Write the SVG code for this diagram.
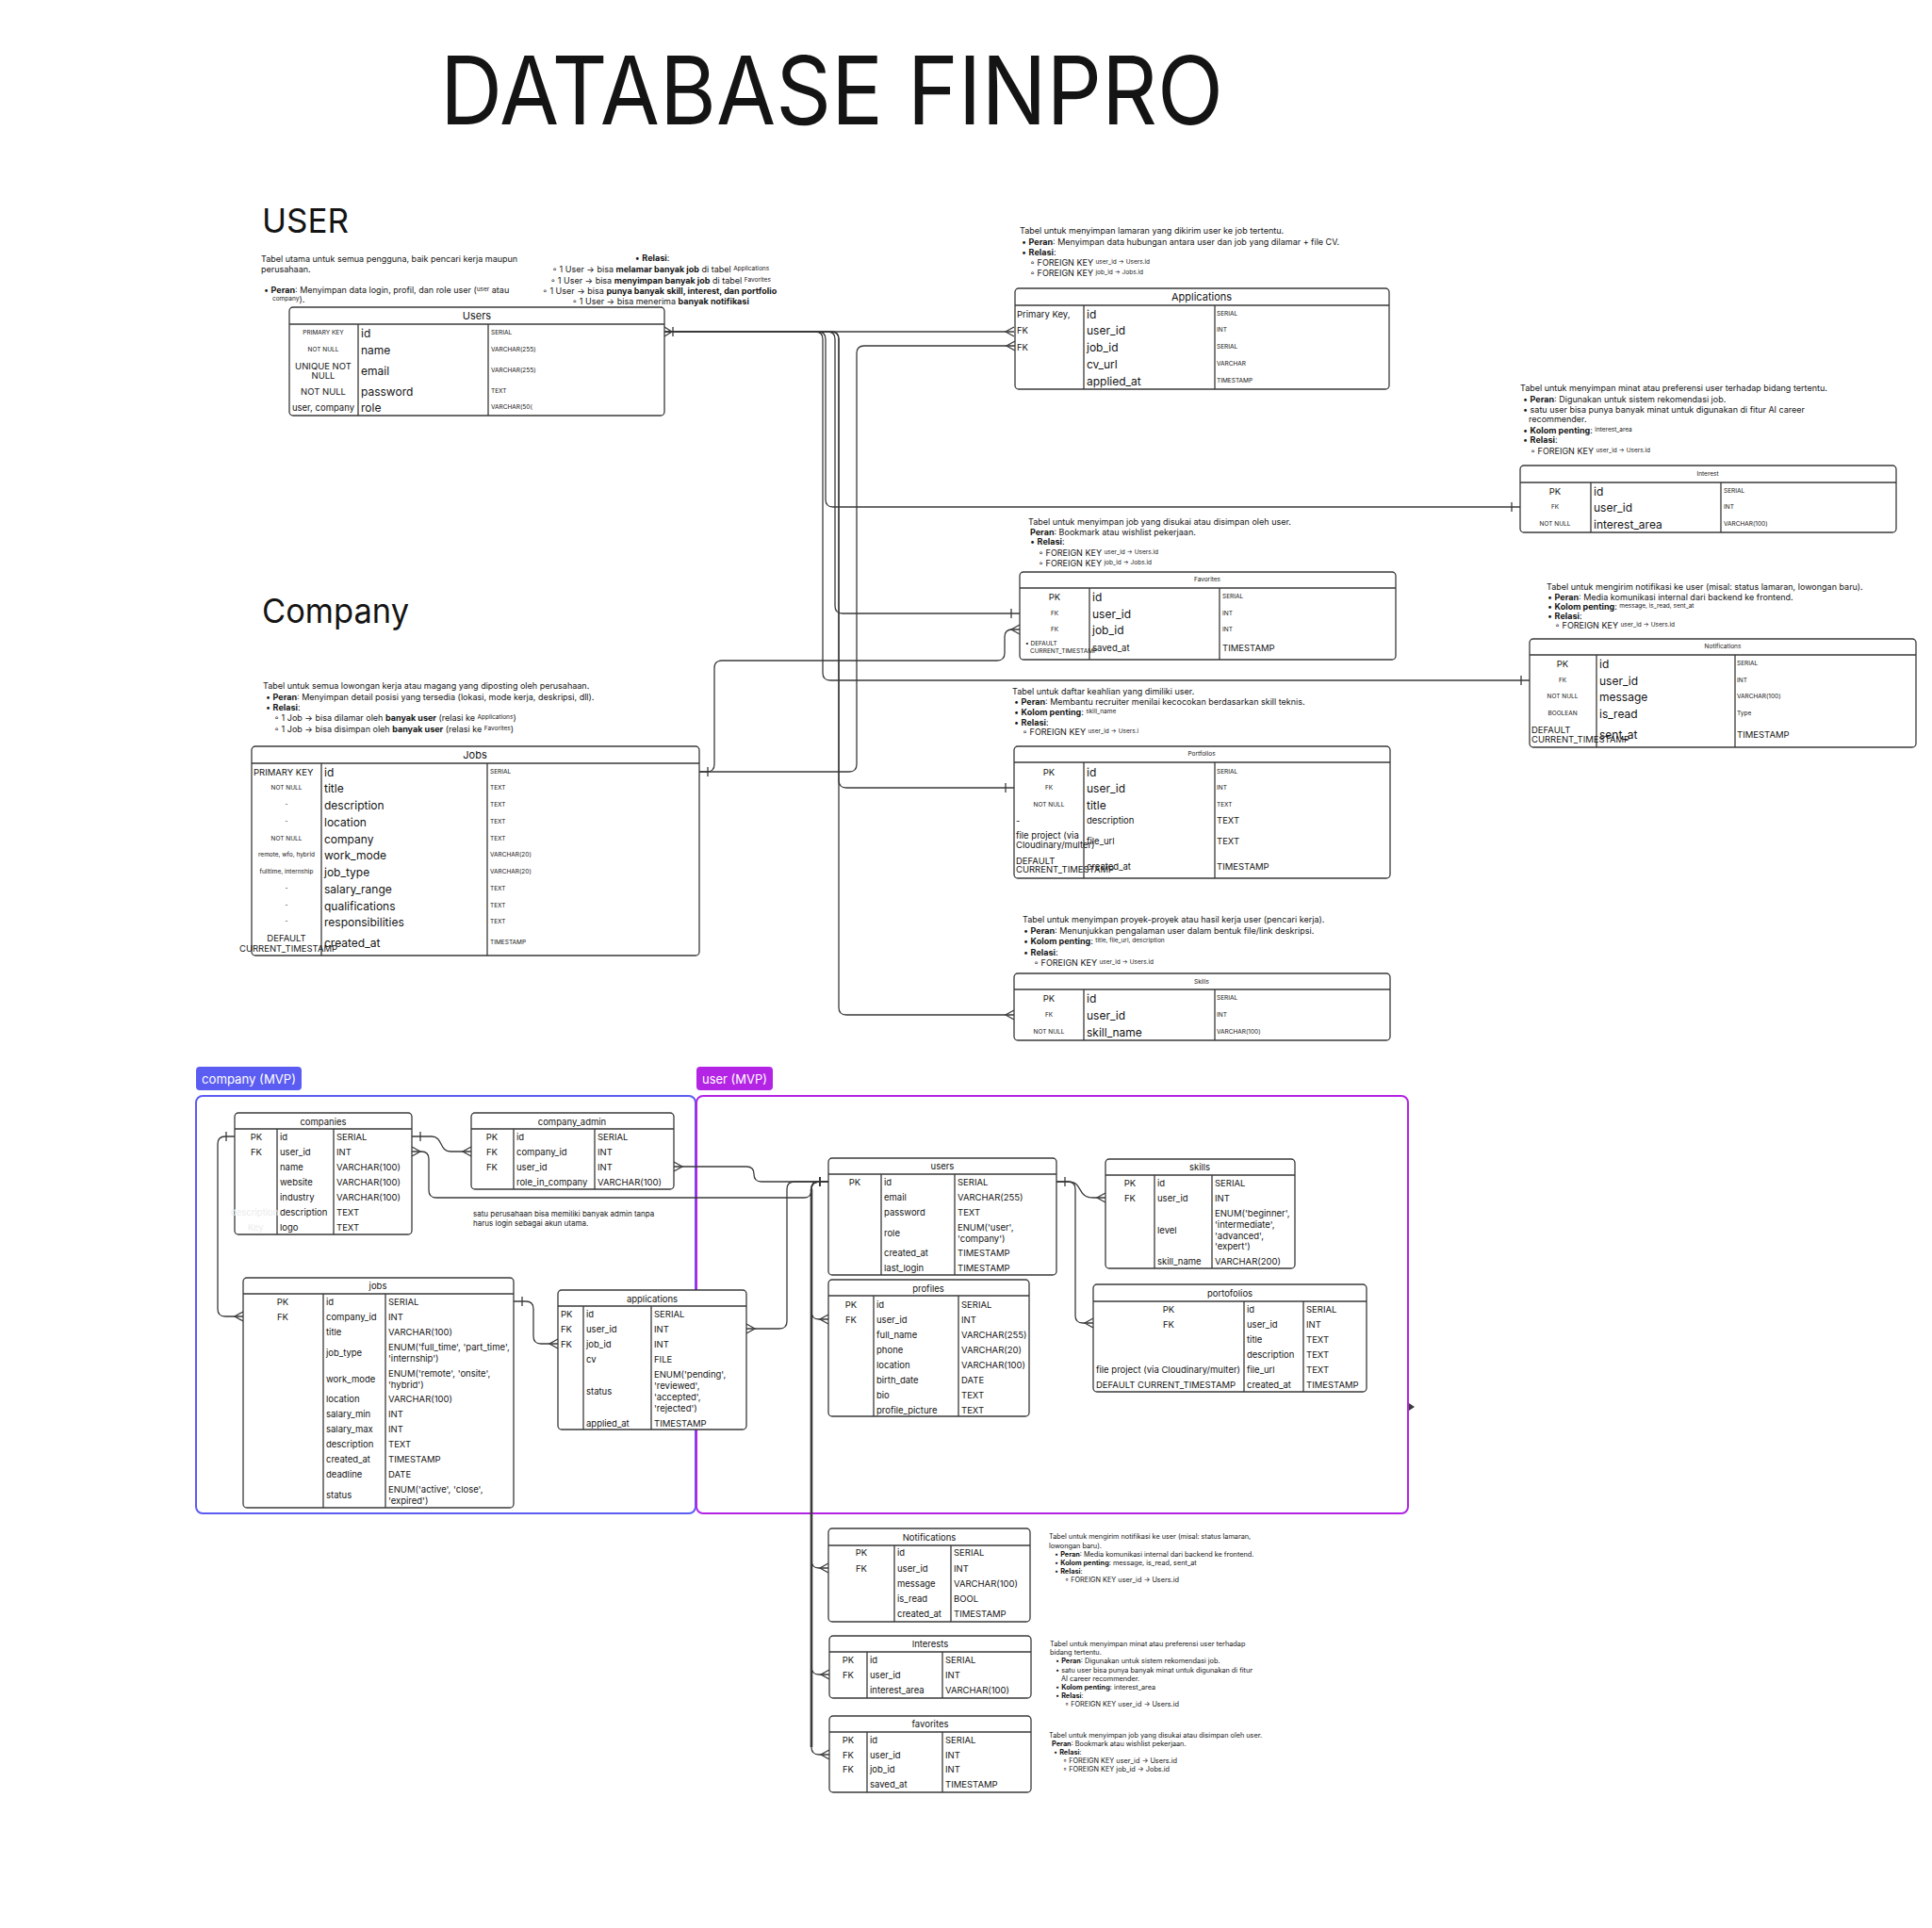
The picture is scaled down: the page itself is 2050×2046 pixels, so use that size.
<svg xmlns="http://www.w3.org/2000/svg" width="2050" height="2046" viewBox="0 0 2050 2046">
<style>
text{font-family:Inter,"Liberation Sans",sans-serif;fill:#141414;dominant-baseline:central}
.tbl{fill:#fff;stroke:#3a3a3a;stroke-width:1.3}
.ln{fill:none;stroke:#3a3a3a;stroke-width:1.3}
.cx{fill:none;stroke:#3a3a3a;stroke-width:1.3}
.f12{font-size:12px}.f11{font-size:11px}.f9{font-size:9.5px}.f6{font-size:6.5px}.n{font-size:9px}.n8{font-size:8px}.n7{font-size:7.3px}
.m{text-anchor:middle}.b{font-weight:700}.s{font-size:6.5px}
.wt{fill:#fff}.ghost{fill:#ececec}
</style>
<defs>
<marker id="many" markerUnits="userSpaceOnUse" markerWidth="24" markerHeight="24" viewBox="-12 -12 24 24" refX="0" refY="0" orient="auto-start-reverse" overflow="visible"><path d="M0,-5 L-9,0 L0,5" fill="none" stroke="#3a3a3a" stroke-width="1.3"/></marker>
<marker id="one" markerUnits="userSpaceOnUse" markerWidth="24" markerHeight="24" viewBox="-12 -12 24 24" refX="0" refY="0" orient="auto-start-reverse" overflow="visible"><path d="M-9,-5 V5" fill="none" stroke="#3a3a3a" stroke-width="1.3"/></marker>
<marker id="onemany" markerUnits="userSpaceOnUse" markerWidth="24" markerHeight="24" viewBox="-12 -12 24 24" refX="0" refY="0" orient="auto-start-reverse" overflow="visible"><path d="M0,-5 L-8,0 L0,5 M-9,-5 V5" fill="none" stroke="#3a3a3a" stroke-width="1.3"/></marker>
</defs>
<rect width="2050" height="2046" fill="#fff"/>

<text x="467" y="95" font-size="100" textLength="831" lengthAdjust="spacingAndGlyphs">DATABASE FINPRO</text>
<text x="278" y="234" font-size="36" textLength="92" lengthAdjust="spacingAndGlyphs">USER</text>
<text x="278" y="648" font-size="36" textLength="156" lengthAdjust="spacingAndGlyphs">Company</text>

<!-- notes -->
<g id="notes">
<text class="n" x="277" y="274">Tabel utama untuk semua pengguna, baik pencari kerja maupun</text>
<text class="n" x="277" y="285">perusahaan.</text>
<text class="n" x="280" y="307">• <tspan class="b">Peran</tspan>: Menyimpan data login, profil, dan role user (<tspan class="s">user</tspan> atau</text>
<text class="n" x="289" y="317"><tspan class="s">company</tspan>).</text>

<text class="n m" x="692" y="273">• <tspan class="b">Relasi</tspan>:</text>
<text class="n m" x="701" y="285">◦ 1 User → bisa <tspan class="b">melamar banyak job</tspan> di tabel <tspan class="s">Applications</tspan></text>
<text class="n m" x="701" y="297">◦  1 User → bisa <tspan class="b">menyimpan banyak job</tspan> di tabel <tspan class="s">Favorites</tspan></text>
<text class="n m" x="700" y="308">◦ 1 User → bisa <tspan class="b">punya banyak skill, interest, dan portfolio</tspan></text>
<text class="n m" x="701" y="319">◦ 1 User → bisa menerima <tspan class="b">banyak notifikasi</tspan></text>

<text class="n" x="1082" y="244">Tabel untuk menyimpan lamaran yang dikirim user ke job tertentu.</text>
<text class="n" x="1084" y="256">• <tspan class="b">Peran</tspan>: Menyimpan data hubungan antara user dan job yang dilamar + file CV.</text>
<text class="n" x="1084" y="267">• <tspan class="b">Relasi</tspan>:</text>
<text class="n" x="1093" y="278">◦ FOREIGN KEY <tspan class="s">user_id → Users.id</tspan></text>
<text class="n" x="1093" y="289">◦ FOREIGN KEY <tspan class="s">job_id → Jobs.id</tspan></text>

<text class="n" x="1613" y="411">Tabel untuk menyimpan minat atau preferensi user terhadap bidang tertentu.</text>
<text class="n" x="1616" y="423">•  <tspan class="b">Peran</tspan>: Digunakan untuk sistem rekomendasi job.</text>
<text class="n" x="1616" y="434">• satu user bisa punya banyak minat untuk digunakan di fitur AI career</text>
<text class="n" x="1622" y="444">recommender.</text>
<text class="n" x="1616" y="456">• <tspan class="b">Kolom penting</tspan>: <tspan class="s">interest_area</tspan></text>
<text class="n" x="1616" y="466">• <tspan class="b">Relasi</tspan>:</text>
<text class="n" x="1624" y="478">◦ FOREIGN KEY <tspan class="s">user_id → Users.id</tspan></text>

<text class="n" x="1091" y="553">Tabel untuk menyimpan job yang disukai atau disimpan oleh user.</text>
<text class="n" x="1093" y="564"><tspan class="b">Peran</tspan>: Bookmark atau wishlist pekerjaan.</text>
<text class="n" x="1093" y="574">• <tspan class="b">Relasi</tspan>:</text>
<text class="n" x="1102" y="586">◦ FOREIGN KEY <tspan class="s">user_id → Users.id</tspan></text>
<text class="n" x="1102" y="597">◦ FOREIGN KEY <tspan class="s">job_id → Jobs.id</tspan></text>

<text class="n" x="1641" y="622">Tabel untuk mengirim notifikasi ke user (misal: status lamaran, lowongan baru).</text>
<text class="n" x="1642" y="633">• <tspan class="b">Peran</tspan>: Media komunikasi internal dari backend ke frontend.</text>
<text class="n" x="1642" y="643">• <tspan class="b">Kolom penting</tspan>: <tspan class="s">message, is_read, sent_at</tspan></text>
<text class="n" x="1642" y="653">• <tspan class="b">Relasi</tspan>:</text>
<text class="n" x="1650" y="663">◦ FOREIGN KEY <tspan class="s">user_id → Users.id</tspan></text>

<text class="n" x="279" y="727">Tabel untuk semua lowongan kerja atau magang yang diposting oleh perusahaan.</text>
<text class="n" x="282" y="739">• <tspan class="b">Peran</tspan>: Menyimpan detail posisi yang tersedia (lokasi, mode kerja, deskripsi, dll).</text>
<text class="n" x="282" y="750">• <tspan class="b">Relasi</tspan>:</text>
<text class="n" x="291" y="761">◦ 1 Job → bisa dilamar oleh <tspan class="b">banyak user</tspan> (relasi ke <tspan class="s">Applications</tspan>)</text>
<text class="n" x="291" y="773">◦ 1 Job → bisa disimpan oleh <tspan class="b">banyak user</tspan> (relasi ke <tspan class="s">Favorites</tspan>)</text>

<text class="n" x="1074" y="733">Tabel untuk daftar keahlian yang dimiliki user.</text>
<text class="n" x="1076" y="744">• <tspan class="b">Peran</tspan>: Membantu recruiter menilai kecocokan berdasarkan skill teknis.</text>
<text class="n" x="1076" y="755">• <tspan class="b">Kolom penting</tspan>: <tspan class="s">skill_name</tspan></text>
<text class="n" x="1076" y="766">• <tspan class="b">Relasi</tspan>:</text>
<text class="n" x="1085" y="776">◦ FOREIGN KEY <tspan class="s">user_id → Users.i</tspan></text>

<text class="n" x="1085" y="975">Tabel untuk menyimpan proyek-proyek atau hasil kerja user (pencari kerja).</text>
<text class="n" x="1086" y="987">• <tspan class="b">Peran</tspan>: Menunjukkan pengalaman user dalam bentuk file/link deskripsi.</text>
<text class="n" x="1086" y="998">• <tspan class="b">Kolom penting</tspan>: <tspan class="s">title, file_url, description</tspan></text>
<text class="n" x="1086" y="1010">• <tspan class="b">Relasi</tspan>:</text>
<text class="n" x="1097" y="1021">◦ FOREIGN KEY <tspan class="s">user_id → Users.id</tspan></text>

<text class="n8" x="502" y="1288">satu perusahaan bisa memiliki banyak admin tanpa</text>
<text class="n8" x="502" y="1298">harus login sebagai akun utama.</text>

<text class="n7" x="1113" y="1630">Tabel untuk mengirim notifikasi ke user (misal: status lamaran,</text>
<text class="n7" x="1113" y="1640">lowongan baru).</text>
<text class="n7" x="1119" y="1649">• <tspan class="b">Peran</tspan>: Media komunikasi internal dari backend ke frontend.</text>
<text class="n7" x="1119" y="1658">• <tspan class="b">Kolom penting</tspan>: message, is_read, sent_at</text>
<text class="n7" x="1119" y="1667">• <tspan class="b">Relasi</tspan>:</text>
<text class="n7" x="1130" y="1676">◦ FOREIGN KEY user_id → Users.id</text>

<text class="n7" x="1114" y="1744">Tabel untuk menyimpan minat atau preferensi user terhadap</text>
<text class="n7" x="1114" y="1753">bidang tertentu.</text>
<text class="n7" x="1120" y="1762">• <tspan class="b">Peran</tspan>: Digunakan untuk sistem rekomendasi job.</text>
<text class="n7" x="1120" y="1772">• satu user bisa punya banyak minat untuk digunakan di fitur</text>
<text class="n7" x="1126" y="1781">AI career recommender.</text>
<text class="n7" x="1120" y="1790">• <tspan class="b">Kolom penting</tspan>: interest_area</text>
<text class="n7" x="1120" y="1799">• <tspan class="b">Relasi</tspan>:</text>
<text class="n7" x="1130" y="1808">◦ FOREIGN KEY user_id → Users.id</text>

<text class="n7" x="1113" y="1841">Tabel untuk menyimpan job yang disukai atau disimpan oleh user.</text>
<text class="n7" x="1116" y="1850"><tspan class="b">Peran</tspan>: Bookmark atau wishlist pekerjaan.</text>
<text class="n7" x="1118" y="1859">• <tspan class="b">Relasi</tspan>:</text>
<text class="n7" x="1128" y="1868">◦ FOREIGN KEY user_id → Users.id</text>
<text class="n7" x="1128" y="1877">◦ FOREIGN KEY job_id → Jobs.id</text>
</g>

<!-- containers -->
<g id="company-mvp">
<rect x="208" y="1163" width="530" height="443" rx="7" fill="none" stroke="#5b5cf2" stroke-width="2"/>
<rect x="208" y="1132" width="112" height="25" rx="4" fill="#5b5cf2"/>
<text class="wt" x="214" y="1145" font-size="13" textLength="100" lengthAdjust="spacingAndGlyphs">company (MVP)</text>
</g>
<g id="user-mvp">
<rect x="739" y="1163" width="755" height="443" rx="7" fill="none" stroke="#b324e4" stroke-width="2"/>
<rect x="739" y="1132" width="81" height="25" rx="4" fill="#b324e4"/>
<text class="wt" x="745" y="1145" font-size="13" textLength="69" lengthAdjust="spacingAndGlyphs">user (MVP)</text>
</g>

<!-- connectors -->
<g id="connectors">
<path class="cx" marker-start="url(#onemany)" marker-end="url(#many)" d="M705,352 H1076"/>
<path class="cx" marker-end="url(#one)" d="M705,352 H868 Q876,352 876,360 V530 Q876,538 884,538 H1613"/>
<path class="cx" marker-end="url(#one)" d="M705,352 H865 Q873,352 873,360 V714 Q873,722 881,722 H1623"/>
<path class="cx" marker-end="url(#one)" d="M705,352 H878 Q886,352 886,360 V643 Q886,651 894,651 H1082"/>
<path class="cx" marker-end="url(#one)" d="M705,352 H882 Q890,352 890,360 V828 Q890,836 898,836 H1076"/>
<path class="cx" marker-end="url(#many)" d="M705,352 H882 Q890,352 890,360 V1069 Q890,1077 898,1077 H1076"/>
<path class="cx" marker-start="url(#one)" marker-end="url(#many)" d="M742,819 H901 Q909,819 909,811 V375 Q909,367 917,367 H1077"/>
<path class="cx" marker-end="url(#many)" d="M742,819 H750 Q758,819 758,811 V709 Q758,701 766,701 H1058 Q1066,701 1066,693 V676 Q1066,668 1074,668 H1082"/>

<path class="cx" marker-start="url(#one)" marker-end="url(#many)" d="M249,1206 H239 Q231,1206 231,1214 V1389 Q231,1397 239,1397 H258"/>
<path class="cx" marker-start="url(#one)" marker-end="url(#many)" d="M437,1206 H458 C470,1206 466,1222 478,1222 H500"/>
<path class="cx" marker-start="url(#many)" marker-end="url(#one)" d="M437,1222 H447 Q455,1222 455,1230 V1263 Q455,1271 463,1271 H853 Q861,1271 861,1263 V1262 Q861,1254 869,1254 H879"/>
<path class="cx" marker-start="url(#many)" marker-end="url(#one)" d="M715,1238 H792 Q800,1238 800,1246 Q800,1254 808,1254 H879"/>
<path class="cx" marker-start="url(#one)" marker-end="url(#many)" d="M545,1381 H558 Q566,1381 566,1389 V1418 Q566,1426 574,1426 H592"/>
<path class="cx" marker-start="url(#many)" marker-end="url(#one)" d="M792,1410 H827 Q835,1410 835,1402 V1262 Q835,1254 843,1254 H879"/>
<path class="cx" marker-start="url(#one)" marker-end="url(#many)" d="M879,1254 H869 Q861,1254 861,1262 V1392 Q861,1400 869,1400 H879"/>
<path class="cx" marker-end="url(#many)" d="M879,1254 H869 Q861,1254 861,1262 V1656 Q861,1664 869,1664 H879"/>
<path class="cx" marker-end="url(#many)" d="M879,1254 H869 Q861,1254 861,1262 V1769 Q861,1777 869,1777 H880"/>
<path class="cx" marker-end="url(#many)" d="M879,1254 H869 Q861,1254 861,1262 V1854 Q861,1862 869,1862 H880"/>
<path d="M861,1262 V1854" fill="none" stroke="#3a3a3a" stroke-width="2.6"/>
<path class="cx" marker-start="url(#one)" marker-end="url(#many)" d="M1121,1254 H1133 C1150,1254 1142,1271 1160,1271 H1173"/>
<path class="cx" marker-end="url(#many)" d="M1121,1254 H1133 Q1141,1254 1141,1262 V1396 Q1141,1404 1149,1404 H1160"/>
<path d="M1495,1489 L1501,1493 L1495,1497 Z" fill="#3a3a3a"/>
</g>

<!-- top tables -->
<g id="Users">
<rect class="tbl" x="307" y="326" width="398" height="115" rx="4"/>
<path class="ln" d="M307 344H705M380 344V441M518 344V441"/>
<text class="f11 m" x="506" y="335">Users</text>
<text class="f6 m" x="343" y="353">PRIMARY KEY</text>
<text class="f6 m" x="343" y="371">NOT NULL</text>
<text class="f9 m" x="343" y="388">UNIQUE NOT</text>
<text class="f9 m" x="343" y="398">NULL</text>
<text class="f9 m" x="343" y="415">NOT NULL</text>
<text class="f9 m" x="343" y="432">user, company</text>
<text class="f12" x="383" y="353">id</text>
<text class="f12" x="383" y="371">name</text>
<text class="f12" x="383" y="393">email</text>
<text class="f12" x="383" y="415">password</text>
<text class="f12" x="383" y="432">role</text>
<text class="f6" x="521" y="353">SERIAL</text>
<text class="f6" x="521" y="371">VARCHAR(255)</text>
<text class="f6" x="521" y="393">VARCHAR(255)</text>
<text class="f6" x="521" y="415">TEXT</text>
<text class="f6" x="521" y="432">VARCHAR(50(</text>
</g>

<g id="Applications">
<rect class="tbl" x="1077" y="306" width="397" height="107" rx="4"/>
<path class="ln" d="M1077 324H1474M1150 324V413M1289 324V413"/>
<text class="f11 m" x="1275" y="315">Applications</text>
<text class="f9" x="1079" y="333">Primary Key,</text>
<text class="f9" x="1079" y="350">FK</text>
<text class="f9" x="1079" y="368">FK</text>
<text class="f12" x="1153" y="333">id</text>
<text class="f12" x="1153" y="350">user_id</text>
<text class="f12" x="1153" y="368">job_id</text>
<text class="f12" x="1153" y="386">cv_url</text>
<text class="f12" x="1153" y="404">applied_at</text>
<text class="f6" x="1291" y="333">SERIAL</text>
<text class="f6" x="1291" y="350">INT</text>
<text class="f6" x="1291" y="368">SERIAL</text>
<text class="f6" x="1291" y="386">VARCHAR</text>
<text class="f6" x="1291" y="404">TIMESTAMP</text>
</g>

<g id="Interest">
<rect class="tbl" x="1613" y="494" width="399" height="71" rx="4"/>
<path class="ln" d="M1613 512H2012M1688 512V565M1826 512V565"/>
<text class="f6 m" x="1812" y="503">Interest</text>
<text class="f9 m" x="1650" y="521">PK</text>
<text class="f6 m" x="1650" y="538">FK</text>
<text class="f6 m" x="1650" y="556">NOT NULL</text>
<text class="f12" x="1691" y="521">id</text>
<text class="f12" x="1691" y="538">user_id</text>
<text class="f12" x="1691" y="556">interest_area</text>
<text class="f6" x="1829" y="521">SERIAL</text>
<text class="f6" x="1829" y="538">INT</text>
<text class="f6" x="1829" y="556">VARCHAR(100)</text>
</g>

<g id="Favorites">
<rect class="tbl" x="1082" y="607" width="399" height="93" rx="4"/>
<path class="ln" d="M1082 624H1481M1156 624V700M1294 624V700"/>
<text class="f6 m" x="1281" y="615">Favorites</text>
<text class="f9 m" x="1119" y="633">PK</text>
<text class="f6 m" x="1119" y="651">FK</text>
<text class="f6 m" x="1119" y="668">FK</text>
<text class="f6" x="1088" y="683">• DEFAULT</text>
<text class="f6" x="1093" y="691">CURRENT_TIMESTAMP</text>
<text class="f12" x="1159" y="633">id</text>
<text class="f12" x="1159" y="651">user_id</text>
<text class="f12" x="1159" y="668">job_id</text>
<text class="f9" x="1159" y="687">saved_at</text>
<text class="f6" x="1297" y="633">SERIAL</text>
<text class="f6" x="1297" y="651">INT</text>
<text class="f6" x="1297" y="668">INT</text>
<text class="f9" x="1297" y="687">TIMESTAMP</text>
</g>

<g id="Notifications">
<rect class="tbl" x="1623" y="678" width="410" height="115" rx="4"/>
<path class="ln" d="M1623 695H2033M1694 695V793M1841 695V793"/>
<text class="f6 m" x="1828" y="686">Notifications</text>
<text class="f9 m" x="1658" y="704">PK</text>
<text class="f6 m" x="1658" y="722">FK</text>
<text class="f6 m" x="1658" y="739">NOT NULL</text>
<text class="f6 m" x="1658" y="757">BOOLEAN</text>
<text class="f9" x="1625" y="774">DEFAULT</text>
<text class="f9" x="1625" y="784">CURRENT_TIMESTAMP</text>
<text class="f12" x="1697" y="704">id</text>
<text class="f12" x="1697" y="722">user_id</text>
<text class="f12" x="1697" y="739">message</text>
<text class="f12" x="1697" y="757">is_read</text>
<text class="f12" x="1697" y="779">sent_at</text>
<text class="f6" x="1843" y="704">SERIAL</text>
<text class="f6" x="1843" y="722">INT</text>
<text class="f6" x="1843" y="739">VARCHAR(100)</text>
<text class="f6" x="1843" y="757">Type</text>
<text class="f9" x="1843" y="779">TIMESTAMP</text>
</g>

<g id="Jobs">
<rect class="tbl" x="267" y="792" width="475" height="222" rx="4"/>
<path class="ln" d="M267 810H742M341 810V1014M517 810V1014"/>
<text class="f11 m" x="504" y="801">Jobs</text>
<text class="f9" x="269" y="819">PRIMARY KEY</text>
<text class="f6 m" x="304" y="836">NOT NULL</text>
<text class="f6 m" x="304" y="854">-</text>
<text class="f6 m" x="304" y="872">-</text>
<text class="f6 m" x="304" y="890">NOT NULL</text>
<text class="f6 m" x="304" y="907">remote, wfo, hybrid</text>
<text class="f6 m" x="304" y="925">fulltime, internship</text>
<text class="f6 m" x="304" y="943">-</text>
<text class="f6 m" x="304" y="961">-</text>
<text class="f6 m" x="304" y="978">-</text>
<text class="f9 m" x="304" y="995">DEFAULT</text>
<text class="f9" x="254" y="1006">CURRENT_TIMESTAMP</text>
<text class="f12" x="344" y="819">id</text>
<text class="f12" x="344" y="836">title</text>
<text class="f12" x="344" y="854">description</text>
<text class="f12" x="344" y="872">location</text>
<text class="f12" x="344" y="890">company</text>
<text class="f12" x="344" y="907">work_mode</text>
<text class="f12" x="344" y="925">job_type</text>
<text class="f12" x="344" y="943">salary_range</text>
<text class="f12" x="344" y="961">qualifications</text>
<text class="f12" x="344" y="978">responsibilities</text>
<text class="f12" x="344" y="1000">created_at</text>
<text class="f6" x="520" y="819">SERIAL</text>
<text class="f6" x="520" y="836">TEXT</text>
<text class="f6" x="520" y="854">TEXT</text>
<text class="f6" x="520" y="872">TEXT</text>
<text class="f6" x="520" y="890">TEXT</text>
<text class="f6" x="520" y="907">VARCHAR(20)</text>
<text class="f6" x="520" y="925">VARCHAR(20)</text>
<text class="f6" x="520" y="943">TEXT</text>
<text class="f6" x="520" y="961">TEXT</text>
<text class="f6" x="520" y="978">TEXT</text>
<text class="f6" x="520" y="1000">TIMESTAMP</text>
</g>

<g id="Portfolios">
<rect class="tbl" x="1076" y="792" width="399" height="140" rx="4"/>
<path class="ln" d="M1076 809H1475M1150 809V932M1289 809V932"/>
<text class="f6 m" x="1275" y="800">Portfolios</text>
<text class="f9 m" x="1113" y="819">PK</text>
<text class="f6 m" x="1113" y="836">FK</text>
<text class="f6 m" x="1113" y="854">NOT NULL</text>
<text class="f9" x="1078" y="870">-</text>
<text class="f9" x="1078" y="886">file project (via</text>
<text class="f9" x="1078" y="896">Cloudinary/multer)</text>
<text class="f9" x="1078" y="913">DEFAULT</text>
<text class="f9" x="1078" y="922">CURRENT_TIMESTAMP</text>
<text class="f12" x="1153" y="819">id</text>
<text class="f12" x="1153" y="836">user_id</text>
<text class="f12" x="1153" y="854">title</text>
<text class="f9" x="1153" y="870">description</text>
<text class="f9" x="1153" y="892">file_url</text>
<text class="f9" x="1153" y="919">created_at</text>
<text class="f6" x="1291" y="819">SERIAL</text>
<text class="f6" x="1291" y="836">INT</text>
<text class="f6" x="1291" y="854">TEXT</text>
<text class="f9" x="1291" y="870">TEXT</text>
<text class="f9" x="1291" y="892">TEXT</text>
<text class="f9" x="1291" y="919">TIMESTAMP</text>
</g>

<g id="Skills">
<rect class="tbl" x="1076" y="1033" width="399" height="71" rx="4"/>
<path class="ln" d="M1076 1050H1475M1150 1050V1104M1289 1050V1104"/>
<text class="f6 m" x="1275" y="1042">Skills</text>
<text class="f9 m" x="1113" y="1059">PK</text>
<text class="f6 m" x="1113" y="1077">FK</text>
<text class="f6 m" x="1113" y="1095">NOT NULL</text>
<text class="f12" x="1153" y="1059">id</text>
<text class="f12" x="1153" y="1077">user_id</text>
<text class="f12" x="1153" y="1095">skill_name</text>
<text class="f6" x="1291" y="1059">SERIAL</text>
<text class="f6" x="1291" y="1077">INT</text>
<text class="f6" x="1291" y="1095">VARCHAR(100)</text>
</g>

<!-- bottom tables -->
<g id="companies">
<rect class="tbl" x="249" y="1181" width="188" height="129" rx="4"/>
<path class="ln" d="M249 1198H437M294 1198V1310M354 1198V1310"/>
<text class="f9 m" x="343" y="1190">companies</text>
<text class="f9 m" x="272" y="1206">PK</text>
<text class="f9 m" x="272" y="1222">FK</text>
<text class="f9 ghost" x="245" y="1286">description</text>
<text class="f9 ghost" x="263" y="1302">Key</text>
<text class="f9" x="297" y="1206">id</text>
<text class="f9" x="297" y="1222">user_id</text>
<text class="f9" x="297" y="1238">name</text>
<text class="f9" x="297" y="1254">website</text>
<text class="f9" x="297" y="1270">industry</text>
<text class="f9" x="297" y="1286">description</text>
<text class="f9" x="297" y="1302">logo</text>
<text class="f9" x="357" y="1206">SERIAL</text>
<text class="f9" x="357" y="1222">INT</text>
<text class="f9" x="357" y="1238">VARCHAR(100)</text>
<text class="f9" x="357" y="1254">VARCHAR(100)</text>
<text class="f9" x="357" y="1270">VARCHAR(100)</text>
<text class="f9" x="357" y="1286">TEXT</text>
<text class="f9" x="357" y="1302">TEXT</text>
</g>

<g id="company_admin">
<rect class="tbl" x="500" y="1181" width="215" height="81" rx="4"/>
<path class="ln" d="M500 1198H715M545 1198V1262M631 1198V1262"/>
<text class="f9 m" x="607" y="1190">company_admin</text>
<text class="f9 m" x="522" y="1206">PK</text>
<text class="f9 m" x="522" y="1222">FK</text>
<text class="f9 m" x="522" y="1238">FK</text>
<text class="f9" x="548" y="1206">id</text>
<text class="f9" x="548" y="1222">company_id</text>
<text class="f9" x="548" y="1238">user_id</text>
<text class="f9" x="548" y="1254">role_in_company</text>
<text class="f9" x="634" y="1206">SERIAL</text>
<text class="f9" x="634" y="1222">INT</text>
<text class="f9" x="634" y="1238">INT</text>
<text class="f9" x="634" y="1254">VARCHAR(100)</text>
</g>

<g id="jobs">
<rect class="tbl" x="258" y="1356" width="287" height="244" rx="4"/>
<path class="ln" d="M258 1373H545M343 1373V1600M409 1373V1600"/>
<text class="f9 m" x="401" y="1364">jobs</text>
<text class="f9 m" x="300" y="1381">PK</text>
<text class="f9 m" x="300" y="1397">FK</text>
<text class="f9" x="346" y="1381">id</text>
<text class="f9" x="346" y="1397">company_id</text>
<text class="f9" x="346" y="1413">title</text>
<text class="f9" x="346" y="1435">job_type</text>
<text class="f9" x="346" y="1463">work_mode</text>
<text class="f9" x="346" y="1484">location</text>
<text class="f9" x="346" y="1500">salary_min</text>
<text class="f9" x="346" y="1516">salary_max</text>
<text class="f9" x="346" y="1532">description</text>
<text class="f9" x="346" y="1548">created_at</text>
<text class="f9" x="346" y="1564">deadline</text>
<text class="f9" x="346" y="1586">status</text>
<text class="f9" x="412" y="1381">SERIAL</text>
<text class="f9" x="412" y="1397">INT</text>
<text class="f9" x="412" y="1413">VARCHAR(100)</text>
<text class="f9" x="412" y="1429">ENUM('full_time', 'part_time',</text>
<text class="f9" x="412" y="1441">'internship')</text>
<text class="f9" x="412" y="1457">ENUM('remote', 'onsite',</text>
<text class="f9" x="412" y="1469">'hybrid')</text>
<text class="f9" x="412" y="1484">VARCHAR(100)</text>
<text class="f9" x="412" y="1500">INT</text>
<text class="f9" x="412" y="1516">INT</text>
<text class="f9" x="412" y="1532">TEXT</text>
<text class="f9" x="412" y="1548">TIMESTAMP</text>
<text class="f9" x="412" y="1564">DATE</text>
<text class="f9" x="412" y="1580">ENUM('active', 'close',</text>
<text class="f9" x="412" y="1592">'expired')</text>
</g>

<g id="applications">
<rect class="tbl" x="592" y="1369" width="200" height="148" rx="4"/>
<path class="ln" d="M592 1386H792M619 1386V1517M691 1386V1517"/>
<text class="f9 m" x="692" y="1378">applications</text>
<text class="f9" x="595" y="1394">PK</text>
<text class="f9" x="595" y="1410">FK</text>
<text class="f9" x="595" y="1426">FK</text>
<text class="f9" x="622" y="1394">id</text>
<text class="f9" x="622" y="1410">user_id</text>
<text class="f9" x="622" y="1426">job_id</text>
<text class="f9" x="622" y="1442">cv</text>
<text class="f9" x="622" y="1476">status</text>
<text class="f9" x="622" y="1510">applied_at</text>
<text class="f9" x="694" y="1394">SERIAL</text>
<text class="f9" x="694" y="1410">INT</text>
<text class="f9" x="694" y="1426">INT</text>
<text class="f9" x="694" y="1442">FILE</text>
<text class="f9" x="694" y="1458">ENUM('pending',</text>
<text class="f9" x="694" y="1470">'reviewed',</text>
<text class="f9" x="694" y="1482">'accepted',</text>
<text class="f9" x="694" y="1494">'rejected')</text>
<text class="f9" x="694" y="1510">TIMESTAMP</text>
</g>

<g id="users">
<rect class="tbl" x="879" y="1229" width="242" height="124" rx="4"/>
<path class="ln" d="M879 1246H1121M935 1246V1353M1013 1246V1353"/>
<text class="f9 m" x="1000" y="1237">users</text>
<text class="f9 m" x="907" y="1254">PK</text>
<text class="f9" x="938" y="1254">id</text>
<text class="f9" x="938" y="1270">email</text>
<text class="f9" x="938" y="1286">password</text>
<text class="f9" x="938" y="1308">role</text>
<text class="f9" x="938" y="1329">created_at</text>
<text class="f9" x="938" y="1345">last_login</text>
<text class="f9" x="1016" y="1254">SERIAL</text>
<text class="f9" x="1016" y="1270">VARCHAR(255)</text>
<text class="f9" x="1016" y="1286">TEXT</text>
<text class="f9" x="1016" y="1302">ENUM('user',</text>
<text class="f9" x="1016" y="1314">'company')</text>
<text class="f9" x="1016" y="1329">TIMESTAMP</text>
<text class="f9" x="1016" y="1345">TIMESTAMP</text>
</g>

<g id="profiles">
<rect class="tbl" x="879" y="1358" width="213" height="145" rx="4"/>
<path class="ln" d="M879 1375H1092M927 1375V1503M1017 1375V1503"/>
<text class="f9 m" x="985" y="1367">profiles</text>
<text class="f9 m" x="903" y="1384">PK</text>
<text class="f9 m" x="903" y="1400">FK</text>
<text class="f9" x="930" y="1384">id</text>
<text class="f9" x="930" y="1400">user_id</text>
<text class="f9" x="930" y="1416">full_name</text>
<text class="f9" x="930" y="1432">phone</text>
<text class="f9" x="930" y="1448">location</text>
<text class="f9" x="930" y="1464">birth_date</text>
<text class="f9" x="930" y="1480">bio</text>
<text class="f9" x="930" y="1496">profile_picture</text>
<text class="f9" x="1020" y="1384">SERIAL</text>
<text class="f9" x="1020" y="1400">INT</text>
<text class="f9" x="1020" y="1416">VARCHAR(255)</text>
<text class="f9" x="1020" y="1432">VARCHAR(20)</text>
<text class="f9" x="1020" y="1448">VARCHAR(100)</text>
<text class="f9" x="1020" y="1464">DATE</text>
<text class="f9" x="1020" y="1480">TEXT</text>
<text class="f9" x="1020" y="1496">TEXT</text>
</g>

<g id="skills">
<rect class="tbl" x="1173" y="1230" width="201" height="116" rx="4"/>
<path class="ln" d="M1173 1247H1374M1225 1247V1346M1286 1247V1346"/>
<text class="f9 m" x="1273" y="1238">skills</text>
<text class="f9 m" x="1199" y="1255">PK</text>
<text class="f9 m" x="1199" y="1271">FK</text>
<text class="f9" x="1228" y="1255">id</text>
<text class="f9" x="1228" y="1271">user_id</text>
<text class="f9" x="1228" y="1305">level</text>
<text class="f9" x="1228" y="1338">skill_name</text>
<text class="f9" x="1289" y="1255">SERIAL</text>
<text class="f9" x="1289" y="1271">INT</text>
<text class="f9" x="1289" y="1287">ENUM('beginner',</text>
<text class="f9" x="1289" y="1299">'intermediate',</text>
<text class="f9" x="1289" y="1311">'advanced',</text>
<text class="f9" x="1289" y="1322">'expert')</text>
<text class="f9" x="1289" y="1338">VARCHAR(200)</text>
</g>

<g id="portofolios">
<rect class="tbl" x="1160" y="1363" width="290" height="114" rx="4"/>
<path class="ln" d="M1160 1381H1450M1320 1381V1477M1383 1381V1477"/>
<text class="f9 m" x="1305" y="1372">portofolios</text>
<text class="f9 m" x="1240" y="1389">PK</text>
<text class="f9 m" x="1240" y="1405">FK</text>
<text class="f9" x="1163" y="1453">file project (via Cloudinary/multer)</text>
<text class="f9" x="1163" y="1469">DEFAULT CURRENT_TIMESTAMP</text>
<text class="f9" x="1323" y="1389">id</text>
<text class="f9" x="1323" y="1405">user_id</text>
<text class="f9" x="1323" y="1421">title</text>
<text class="f9" x="1323" y="1437">description</text>
<text class="f9" x="1323" y="1453">file_url</text>
<text class="f9" x="1323" y="1469">created_at</text>
<text class="f9" x="1386" y="1389">SERIAL</text>
<text class="f9" x="1386" y="1405">INT</text>
<text class="f9" x="1386" y="1421">TEXT</text>
<text class="f9" x="1386" y="1437">TEXT</text>
<text class="f9" x="1386" y="1453">TEXT</text>
<text class="f9" x="1386" y="1469">TIMESTAMP</text>
</g>

<g id="notifications-mvp">
<rect class="tbl" x="879" y="1622" width="214" height="99" rx="4"/>
<path class="ln" d="M879 1640H1093M949 1640V1721M1009 1640V1721"/>
<text class="f9 m" x="986" y="1631">Notifications</text>
<text class="f9 m" x="914" y="1647">PK</text>
<text class="f9 m" x="914" y="1664">FK</text>
<text class="f9" x="952" y="1647">id</text>
<text class="f9" x="952" y="1664">user_id</text>
<text class="f9" x="952" y="1680">message</text>
<text class="f9" x="952" y="1696">is_read</text>
<text class="f9" x="952" y="1712">created_at</text>
<text class="f9" x="1012" y="1647">SERIAL</text>
<text class="f9" x="1012" y="1664">INT</text>
<text class="f9" x="1012" y="1680">VARCHAR(100)</text>
<text class="f9" x="1012" y="1696">BOOL</text>
<text class="f9" x="1012" y="1712">TIMESTAMP</text>
</g>

<g id="interests-mvp">
<rect class="tbl" x="880" y="1736" width="214" height="66" rx="4"/>
<path class="ln" d="M880 1753H1094M920 1753V1802M1000 1753V1802"/>
<text class="f9 m" x="987" y="1744">Interests</text>
<text class="f9 m" x="900" y="1761">PK</text>
<text class="f9 m" x="900" y="1777">FK</text>
<text class="f9" x="923" y="1761">id</text>
<text class="f9" x="923" y="1777">user_id</text>
<text class="f9" x="923" y="1793">interest_area</text>
<text class="f9" x="1003" y="1761">SERIAL</text>
<text class="f9" x="1003" y="1777">INT</text>
<text class="f9" x="1003" y="1793">VARCHAR(100)</text>
</g>

<g id="favorites-mvp">
<rect class="tbl" x="880" y="1821" width="214" height="81" rx="4"/>
<path class="ln" d="M880 1838H1094M920 1838V1902M1000 1838V1902"/>
<text class="f9 m" x="987" y="1829">favorites</text>
<text class="f9 m" x="900" y="1846">PK</text>
<text class="f9 m" x="900" y="1862">FK</text>
<text class="f9 m" x="900" y="1877">FK</text>
<text class="f9" x="923" y="1846">id</text>
<text class="f9" x="923" y="1862">user_id</text>
<text class="f9" x="923" y="1877">job_id</text>
<text class="f9" x="923" y="1893">saved_at</text>
<text class="f9" x="1003" y="1846">SERIAL</text>
<text class="f9" x="1003" y="1862">INT</text>
<text class="f9" x="1003" y="1877">INT</text>
<text class="f9" x="1003" y="1893">TIMESTAMP</text>
</g>
</svg>
